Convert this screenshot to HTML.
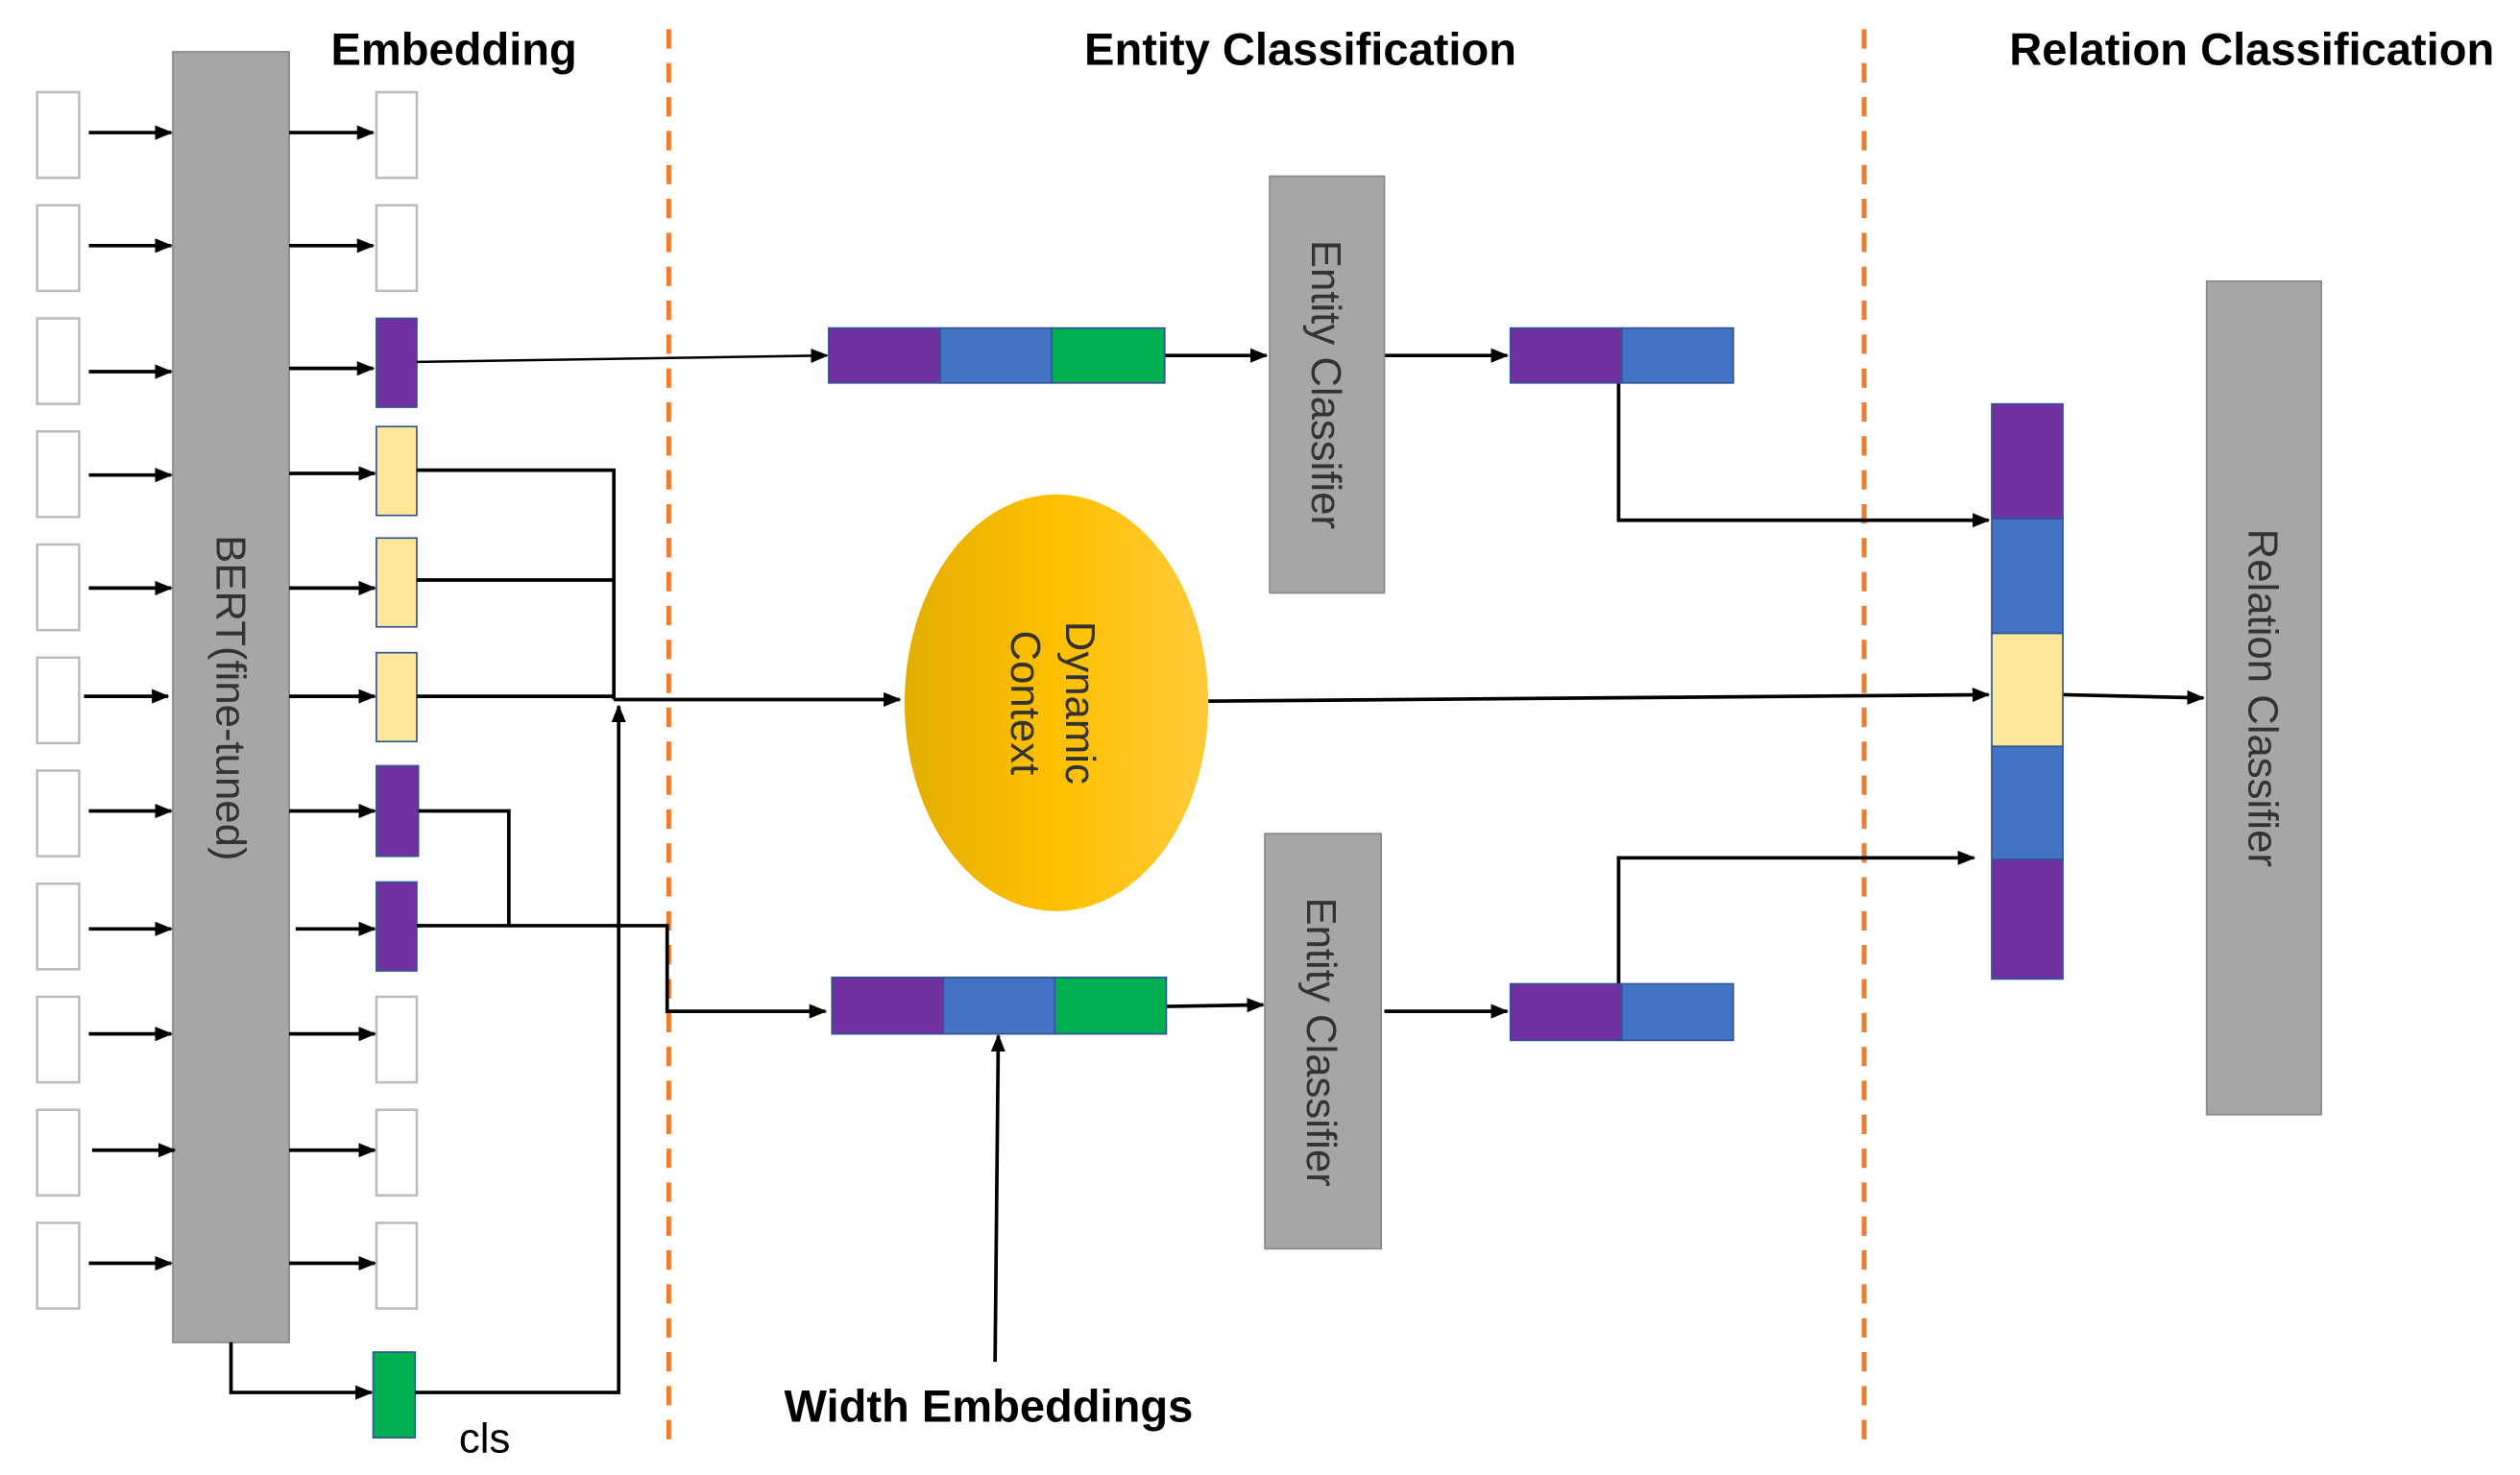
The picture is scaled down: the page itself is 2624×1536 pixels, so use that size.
<!DOCTYPE html>
<html><head><meta charset="utf-8"><style>html,body{margin:0;padding:0;background:#fff}svg{display:block}</style></head>
<body>
<svg width="2624" height="1536" viewBox="0 0 1560 913" xmlns="http://www.w3.org/2000/svg" font-family="Liberation Sans, DejaVu Sans, sans-serif">
<defs>
<marker id="a" markerWidth="11" markerHeight="10" refX="10" refY="5" orient="auto" markerUnits="userSpaceOnUse"><path d="M0,0.5 L11,5 L0,9.5 Z" fill="#000"/></marker>
<linearGradient id="g" x1="0" x2="1" y1="0" y2="0"><stop offset="0" stop-color="#E2AE00"/><stop offset="0.5" stop-color="#FFC000"/><stop offset="1" stop-color="#FFCA3A"/></linearGradient>
</defs>
<text x="281" y="40" font-size="28" font-weight="bold" text-anchor="middle">Embedding</text>
<text x="805" y="40" font-size="28" font-weight="bold" text-anchor="middle">Entity Classification</text>
<text x="1394" y="40" font-size="28" font-weight="bold" text-anchor="middle">Relation Classification</text>
<line x1="414" y1="18" x2="414" y2="893" stroke="#ED7D31" stroke-width="3" stroke-dasharray="12,9"/>
<line x1="1154" y1="18" x2="1154" y2="893" stroke="#ED7D31" stroke-width="3" stroke-dasharray="12,9"/>
<rect x="107" y="32" width="72" height="799" fill="#A6A6A6" stroke="#888" stroke-width="1"/>
<text transform="translate(134,432) rotate(90)" font-size="26" fill="#333" text-anchor="middle">BERT(fine-tuned)</text>
<g stroke="#bbb" stroke-width="1.5" fill="#fff">
<rect x="23" y="57" width="26" height="53"/><rect x="23" y="127" width="26" height="53"/><rect x="23" y="197" width="26" height="53"/><rect x="23" y="267" width="26" height="53"/><rect x="23" y="337" width="26" height="53"/><rect x="23" y="407" width="26" height="53"/><rect x="23" y="477" width="26" height="53"/><rect x="23" y="547" width="26" height="53"/><rect x="23" y="617" width="26" height="53"/><rect x="23" y="687" width="26" height="53"/><rect x="23" y="757" width="26" height="53"/>
<rect x="233" y="57" width="25" height="53"/><rect x="233" y="127" width="25" height="53"/><rect x="233" y="617" width="25" height="53"/><rect x="233" y="687" width="25" height="53"/><rect x="233" y="757" width="25" height="53"/>
</g>
<g stroke="#2F5597" stroke-width="1">
<rect x="233" y="197" width="25" height="55" fill="#7030A0"/>
<rect x="233" y="264" width="25" height="55" fill="#FFE699"/>
<rect x="233" y="333" width="25" height="55" fill="#FFE699"/>
<rect x="233" y="404" width="25" height="55" fill="#FFE699"/>
<rect x="233" y="474" width="26" height="56" fill="#7030A0"/>
<rect x="233" y="546" width="25" height="55" fill="#7030A0"/>
<rect x="231" y="837" width="26" height="53" fill="#00B050"/>
</g>
<g stroke="#000" stroke-width="2.2" fill="none" marker-end="url(#a)">
<line x1="55" y1="82" x2="106" y2="82"/><line x1="55" y1="152" x2="106" y2="152"/><line x1="55" y1="230" x2="106" y2="230"/><line x1="55" y1="294" x2="106" y2="294"/><line x1="55" y1="364" x2="106" y2="364"/><line x1="52" y1="431" x2="104" y2="431"/><line x1="55" y1="502" x2="106" y2="502"/><line x1="55" y1="575" x2="106" y2="575"/><line x1="55" y1="640" x2="106" y2="640"/><line x1="57" y1="712" x2="108" y2="712"/><line x1="55" y1="782" x2="106" y2="782"/>
<line x1="179" y1="82" x2="231" y2="82"/><line x1="179" y1="152" x2="231" y2="152"/><line x1="179" y1="228" x2="231" y2="228"/><line x1="179" y1="293" x2="232" y2="293"/><line x1="179" y1="364" x2="232" y2="364"/><line x1="179" y1="431" x2="232" y2="431"/><line x1="179" y1="502" x2="232" y2="502"/><line x1="183" y1="575" x2="232" y2="575"/><line x1="179" y1="640" x2="232" y2="640"/><line x1="179" y1="712" x2="232" y2="712"/><line x1="179" y1="782" x2="232" y2="782"/>
<polyline points="143,831 143,862 230,862"/>
<polyline points="257,862 383,862 383,437"/>
<polyline points="380,433 557,433"/>
<polyline points="258,224 512,220" stroke-width="1.5"/>
<polyline points="258,573 413,573 413,626 511,626"/>
<line x1="721" y1="220" x2="784" y2="220"/>
<line x1="857" y1="220" x2="933" y2="220"/>
<polyline points="1002,237 1002,322 1231,322"/>
<line x1="748" y1="434" x2="1231" y2="430"/>
<line x1="722" y1="623" x2="782" y2="622"/>
<line x1="616" y1="843" x2="618" y2="641"/>
<line x1="857" y1="626" x2="933" y2="626"/>
<polyline points="1002,609 1002,531 1222,531"/>
<line x1="1277" y1="430" x2="1364" y2="432"/>
</g>
<g stroke="#000" stroke-width="2.2" fill="none">
<polyline points="258,291 380,291 380,433"/>
<line x1="258" y1="359" x2="380" y2="359"/>
<line x1="258" y1="431" x2="380" y2="431"/>
<polyline points="259,502 315,502 315,573"/>
</g>
<g stroke="#2F5597" stroke-width="1">
<rect x="513" y="203" width="69" height="34" fill="#7030A0"/><rect x="582" y="203" width="69" height="34" fill="#4472C4"/><rect x="651" y="203" width="70" height="34" fill="#00B050"/>
<rect x="515" y="605" width="69" height="35" fill="#7030A0"/><rect x="584" y="605" width="69" height="35" fill="#4472C4"/><rect x="653" y="605" width="69" height="35" fill="#00B050"/>
<rect x="935" y="203" width="69" height="34" fill="#7030A0"/><rect x="1004" y="203" width="69" height="34" fill="#4472C4"/>
<rect x="935" y="609" width="69" height="35" fill="#7030A0"/><rect x="1004" y="609" width="69" height="35" fill="#4472C4"/>
<rect x="1233" y="250" width="44" height="71" fill="#7030A0"/><rect x="1233" y="321" width="44" height="71" fill="#4472C4"/><rect x="1233" y="392" width="44" height="70" fill="#FFE699"/><rect x="1233" y="462" width="44" height="70" fill="#4472C4"/><rect x="1233" y="532" width="44" height="74" fill="#7030A0"/>
</g>
<rect x="786" y="109" width="71" height="258" fill="#A6A6A6" stroke="#888"/>
<text transform="translate(812,238) rotate(90)" font-size="26" fill="#333" text-anchor="middle">Entity Classifier</text>
<rect x="783" y="516" width="72" height="257" fill="#A6A6A6" stroke="#888"/>
<text transform="translate(809,645) rotate(90)" font-size="26" fill="#333" text-anchor="middle">Entity Classifier</text>
<rect x="1366" y="174" width="71" height="516" fill="#A6A6A6" stroke="#888"/>
<text transform="translate(1392,432) rotate(90)" font-size="26" fill="#333" text-anchor="middle">Relation Classifier</text>
<ellipse cx="654" cy="435" rx="94" ry="129" fill="url(#g)"/>
<text transform="translate(660,435) rotate(90)" font-size="26" fill="#333" text-anchor="middle">Dynamic</text>
<text transform="translate(626,435) rotate(90)" font-size="26" fill="#333" text-anchor="middle">Context</text>
<text x="300" y="899" font-size="26" text-anchor="middle">cls</text>
<text x="612" y="880" font-size="28" font-weight="bold" text-anchor="middle">Width Embeddings</text>
</svg>
</body></html>
